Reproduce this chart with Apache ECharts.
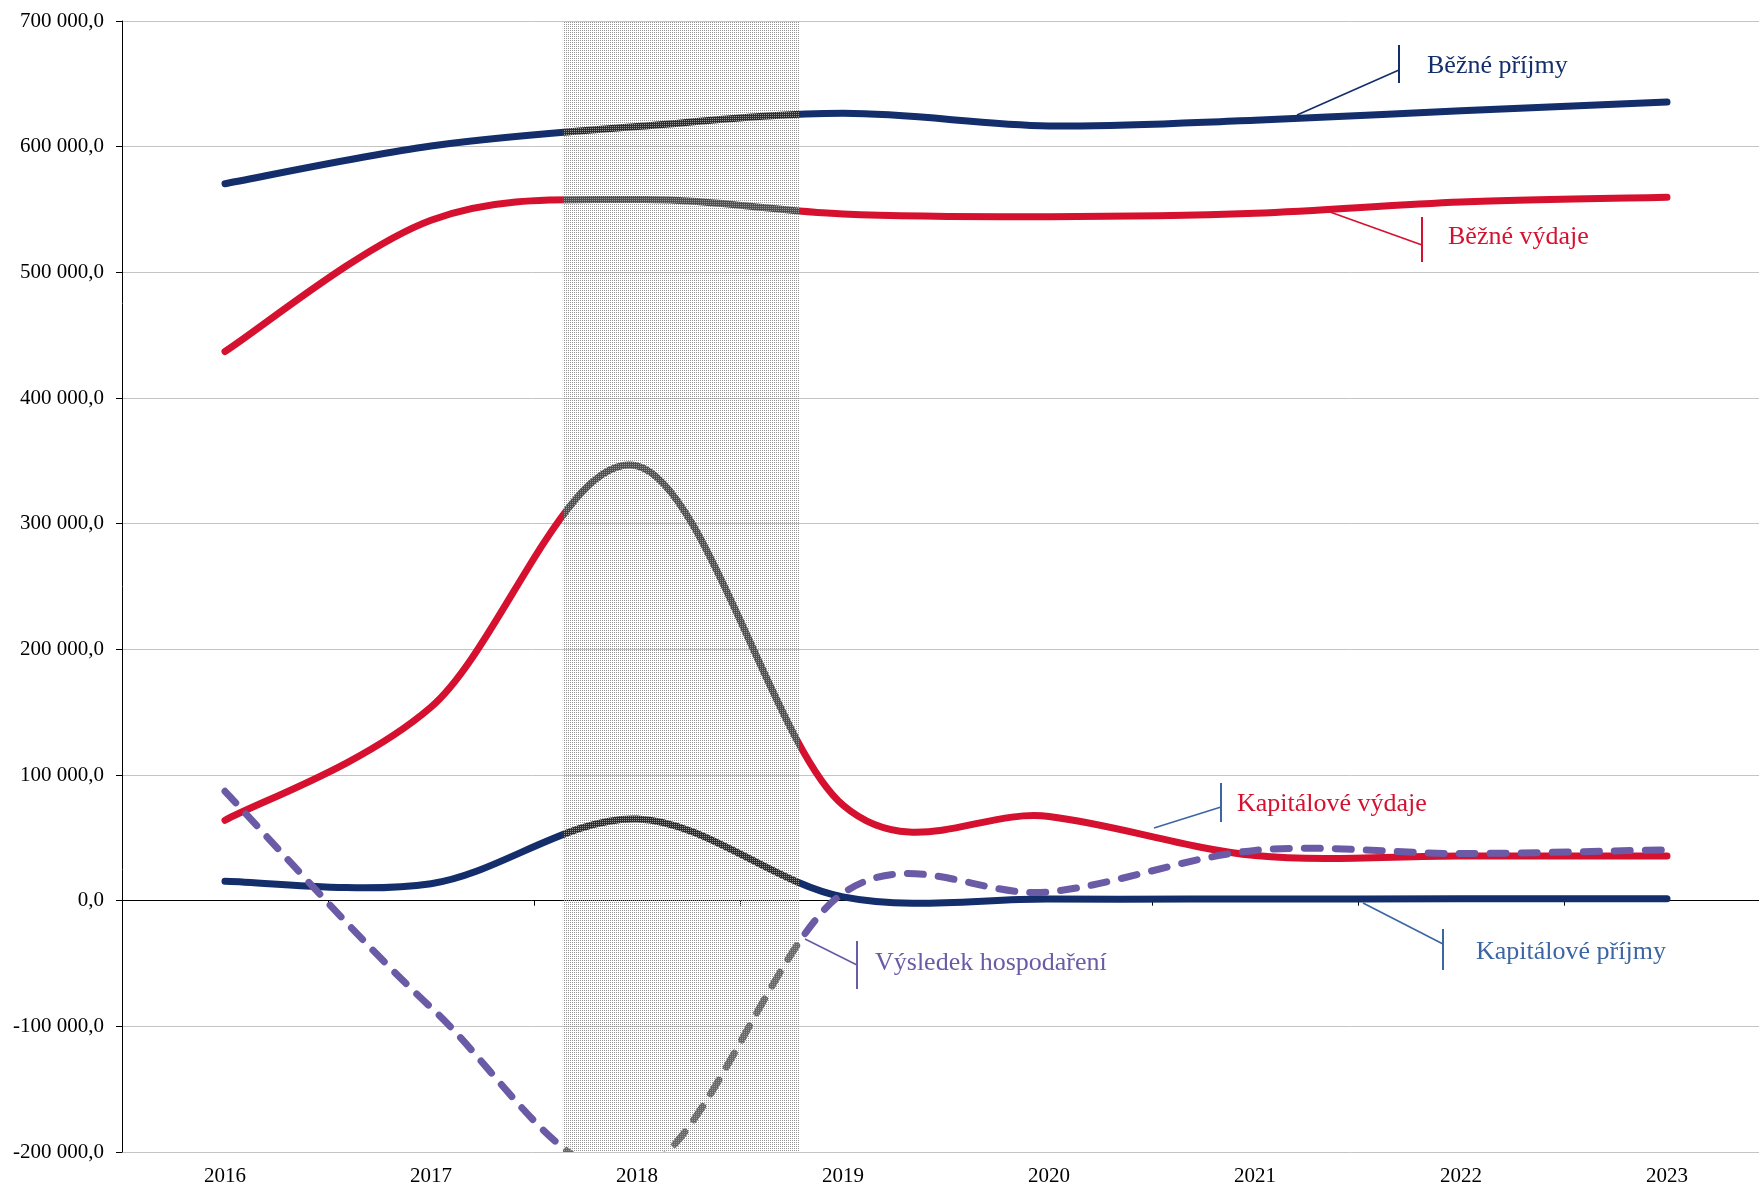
<!DOCTYPE html>
<html>
<head>
<meta charset="utf-8">
<script src="https://cdn.jsdelivr.net/npm/echarts@6/dist/echarts.min.js"></script>
<style>
    html, body { margin: 0; padding: 0; background: #fff; }
    #chart { width: 1759px; height: 1189px; }
</style>
</head>
<body>
<div id="chart"></div>
<script>
// data
const years = ['2016', '2017', '2018', '2019', '2020', '2021', '2022', '2023'];
const bezPrijmy = [570500, 600500, 616000, 626500, 616500, 621000, 628500, 635500];
const bezVydaje = [437000, 541500, 558000, 546500, 544300, 547000, 556000, 559700];
const kapVydaje = [64000, 154000, 346000, 76000, 67000, 36000, 35500, 35500];
const kapPrijmy = [15500, 13500, 65000, 3000, 1300, 1300, 1500, 1500];
const vysledek = [87000, -85000, -216000, 6000, 7000, 40000, 37500, 40500];
// shaded band, in category index units
const shadeRange = [1.64, 2.79];

const serif = "'Liberation Serif', 'Times New Roman', serif";
const colors = {
    navy: '#132e6b',
    red: '#d5112f',
    purple: '#6b5ba6',
    steel: '#3b66a2',
    grid: '#c4c4c4'
};

function fmt(v) {
    const s = Math.abs(v).toString().replace(/\B(?=(\d{3})+(?!\d))/g, ' ');
    return (v < 0 ? '-' : '') + s + ',0';
}

// dotted pattern for the band
const pc = document.createElement('canvas');
pc.width = 2;
pc.height = 2;
const pctx = pc.getContext('2d');
pctx.fillStyle = 'rgba(150,150,150,1)';
pctx.fillRect(0, 0, 1, 1);

// smooth line like the spreadsheet one (catmull-rom through the points)
function curveSeries(name, values, color, dashed) {
    return {
        type: 'custom',
        name: name,
        xAxisIndex: 0,
        yAxisIndex: 0,
        clip: true,
        z: 3,
        data: values.map((v, i) => [years[i], v]),
        encode: { x: 0, y: 1 },
        renderItem: function (params, api) {
            if (params.dataIndex !== 0) return null;
            const pts = values.map((v, i) => api.coord([i, v]));
            const n = pts.length;
            let d = 'M' + pts[0][0] + ' ' + pts[0][1];
            for (let i = 0; i < n - 1; i++) {
                const p0 = pts[Math.max(i - 1, 0)];
                const p1 = pts[i];
                const p2 = pts[i + 1];
                const p3 = pts[Math.min(i + 2, n - 1)];
                const c1x = p1[0] + (p2[0] - p0[0]) / 6;
                const c1y = p1[1] + (p2[1] - p0[1]) / 6;
                const c2x = p2[0] - (p3[0] - p1[0]) / 6;
                const c2y = p2[1] - (p3[1] - p1[1]) / 6;
                d += ' C' + c1x + ' ' + c1y + ' ' + c2x + ' ' + c2y + ' ' + p2[0] + ' ' + p2[1];
            }
            return {
                type: 'path',
                shape: { pathData: d },
                style: {
                    fill: null,
                    stroke: color,
                    lineWidth: 7,
                    lineCap: 'round',
                    lineJoin: 'round',
                    lineDash: dashed ? [16, 15] : null
                }
            };
        }
    };
}

// annotation labels with leader lines
const notes = [
    { text: 'Běžné příjmy', color: colors.navy, lead: colors.navy, from: [1297, 115], to: [1399, 70], bar: [1399, 45, 83], tx: 1427, ty: 66 },
    { text: 'Běžné výdaje', color: colors.red, lead: colors.red, from: [1330, 212], to: [1422, 245], bar: [1422, 217, 262], tx: 1448, ty: 237 },
    { text: 'Kapitálové výdaje', color: colors.red, lead: colors.steel, from: [1154, 828], to: [1221, 807], bar: [1221, 783, 822], tx: 1237, ty: 804 },
    { text: 'Kapitálové příjmy', color: colors.steel, lead: colors.steel, from: [1363, 903], to: [1443, 944], bar: [1443, 929, 970], tx: 1476, ty: 952 },
    { text: 'Výsledek hospodaření', color: colors.purple, lead: colors.purple, from: [805, 939], to: [857, 965], bar: [857, 941, 989], tx: 875, ty: 963 }
];

const graphics = [];
notes.forEach(n => {
    graphics.push({
        type: 'line',
        shape: { x1: n.from[0], y1: n.from[1], x2: n.to[0], y2: n.to[1] },
        style: { stroke: n.lead, lineWidth: 1.6 },
        z: 20
    });
    graphics.push({
        type: 'line',
        shape: { x1: n.bar[0], y1: n.bar[1], x2: n.bar[0], y2: n.bar[2] },
        style: { stroke: n.lead, lineWidth: 2 },
        z: 20
    });
    graphics.push({
        type: 'text',
        x: n.tx,
        y: n.ty,
        style: { text: n.text, fill: n.color, font: '26px ' + serif, verticalAlign: 'middle', align: 'left' },
        z: 20
    });
});

const chart = echarts.init(document.getElementById('chart'));
chart.setOption({
    animation: false,
    backgroundColor: '#fff',
    grid: { left: 122, top: 21, bottom: 37, right: -11, containLabel: false, outerBoundsMode: 'none' },
    xAxis: [
        {
            type: 'category',
            data: years,
            position: 'bottom',
            axisLine: { show: false, onZero: false },
            axisTick: { show: false },
            axisLabel: { color: '#000', fontFamily: serif, fontSize: 21, margin: 14 },
            splitLine: { show: false }
        },
        {
            type: 'category',
            data: years,
            position: 'top',
            axisLine: { show: true, onZero: true, lineStyle: { color: '#000', width: 1 } },
            axisTick: { show: true, inside: true, length: 5, lineStyle: { color: '#000' } },
            axisLabel: { show: false },
            splitLine: { show: false }
        },
        {
            type: 'value',
            min: -0.5,
            max: 7.5,
            show: false
        }
    ],
    yAxis: {
        type: 'value',
        min: -200000,
        max: 700000,
        interval: 100000,
        axisLine: { show: true, onZero: false, lineStyle: { color: '#000', width: 1 } },
        axisTick: { show: true, length: 6, lineStyle: { color: '#000' } },
        axisLabel: { color: '#000', fontFamily: serif, fontSize: 21, margin: 18, formatter: fmt },
        splitLine: { show: true, lineStyle: { color: colors.grid, width: 1 } }
    },
    series: [
        curveSeries('Běžné příjmy', bezPrijmy, colors.navy, false),
        curveSeries('Běžné výdaje', bezVydaje, colors.red, false),
        curveSeries('Kapitálové výdaje', kapVydaje, colors.red, false),
        curveSeries('Kapitálové příjmy', kapPrijmy, colors.navy, false),
        curveSeries('Výsledek hospodaření', vysledek, colors.purple, true),
        {
            type: 'line',
            name: 'band',
            xAxisIndex: 2,
            data: [],
            z: 10,
            markArea: {
                silent: true,
                z: 10,
                itemStyle: { color: { image: pc, repeat: 'repeat' } },
                data: [[{ xAxis: shadeRange[0] }, { xAxis: shadeRange[1] }]]
            }
        }
    ],
    graphic: graphics
});
</script>
</body>
</html>
